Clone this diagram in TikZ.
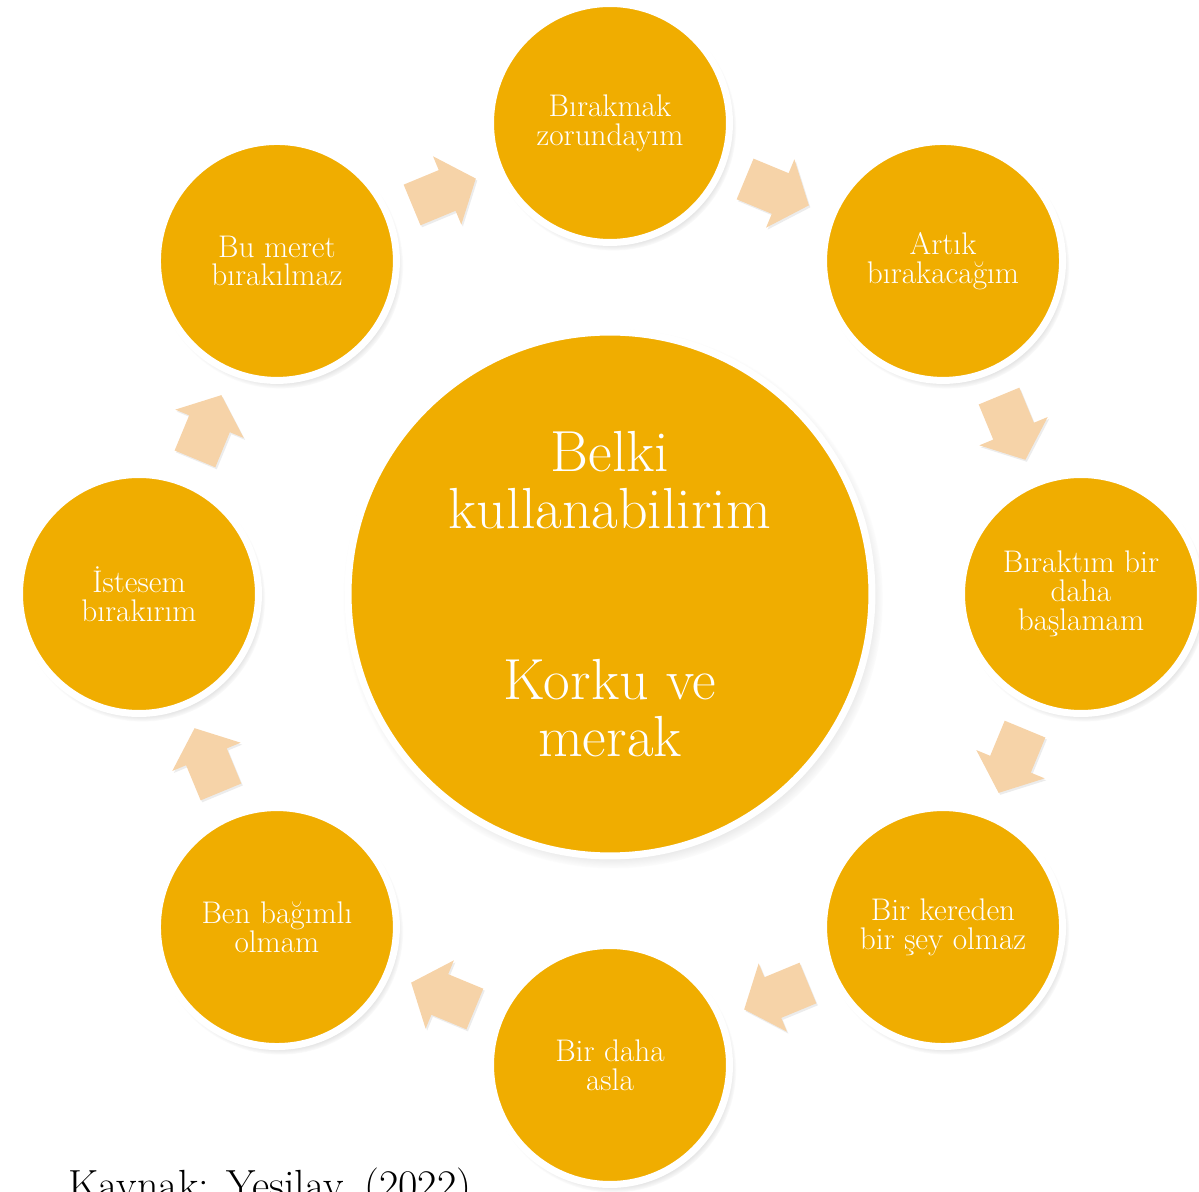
\documentclass[tikz,border=0pt]{standalone}
\usepackage{fontspec}
\usetikzlibrary{calc,shadows}
\definecolor{gold}{HTML}{F0AD00}
\definecolor{peach}{HTML}{F6D3A8}

\begin{document}
\begin{tikzpicture}[x=0.02cm, y=0.02cm]
        \tikzstyle{bubble}=[circle, fill=gold, draw=white, line width=0.14cm, text=white, align=center,
          circular drop shadow={shadow scale=1.03, shadow xshift=0.06cm, shadow yshift=-0.09cm, opacity=0.6}]
        \tikzstyle{stage}=[bubble, minimum size=4.78cm, font=\fontsize{17.8}{16.5}\selectfont]
        \tikzstyle{flow}=[fill=peach, drop shadow={shadow xshift=0.03cm, shadow yshift=-0.04cm, opacity=0.15}]
        \useasboundingbox (-610,-598) rectangle (589,594);

        \path (0,0) node[bubble, minimum size=10.48cm, font=\fontsize{33}{32.5}\selectfont] (mid)
          {Belki\\kullanabilirim\\[65pt]Korku ve\\merak};

        \foreach \t [count=\i] in {{Bırakmak\\zorundayım}, {Artık\\bırakacağım},
          {Bıraktım bir\\daha\\başlamam}, {Bir kereden\\bir şey olmaz}, {Bir daha\\asla},
          {Ben bağımlı\\olmam}, {İstesem\\bırakırım}, {Bu meret\\bırakılmaz}}
        {
          \path (135-\i*45:471) node[stage] (c\i) {\t};
        }

        \foreach \i in {1, ..., 8}
        {
          \pgfmathtruncatemacro\j{mod(\i,8)+1}
          \coordinate (m\i) at ($(c\i)!0.5!(c\j)$);
          \fill[flow, shift={(m\i)}, rotate=22.5-\i*45]
            (-34,-22) -- (4,-22) -- (4,-37) -- (35,0) -- (4,37) -- (4,22) -- (-34,22) -- cycle;
        }

        \path (-542,-605) node[anchor=base west, inner sep=0, font=\fontsize{24}{28}\selectfont] (src)
          {Kaynak: Yeşilay, (2022)};
      \end{tikzpicture}
\end{document}
